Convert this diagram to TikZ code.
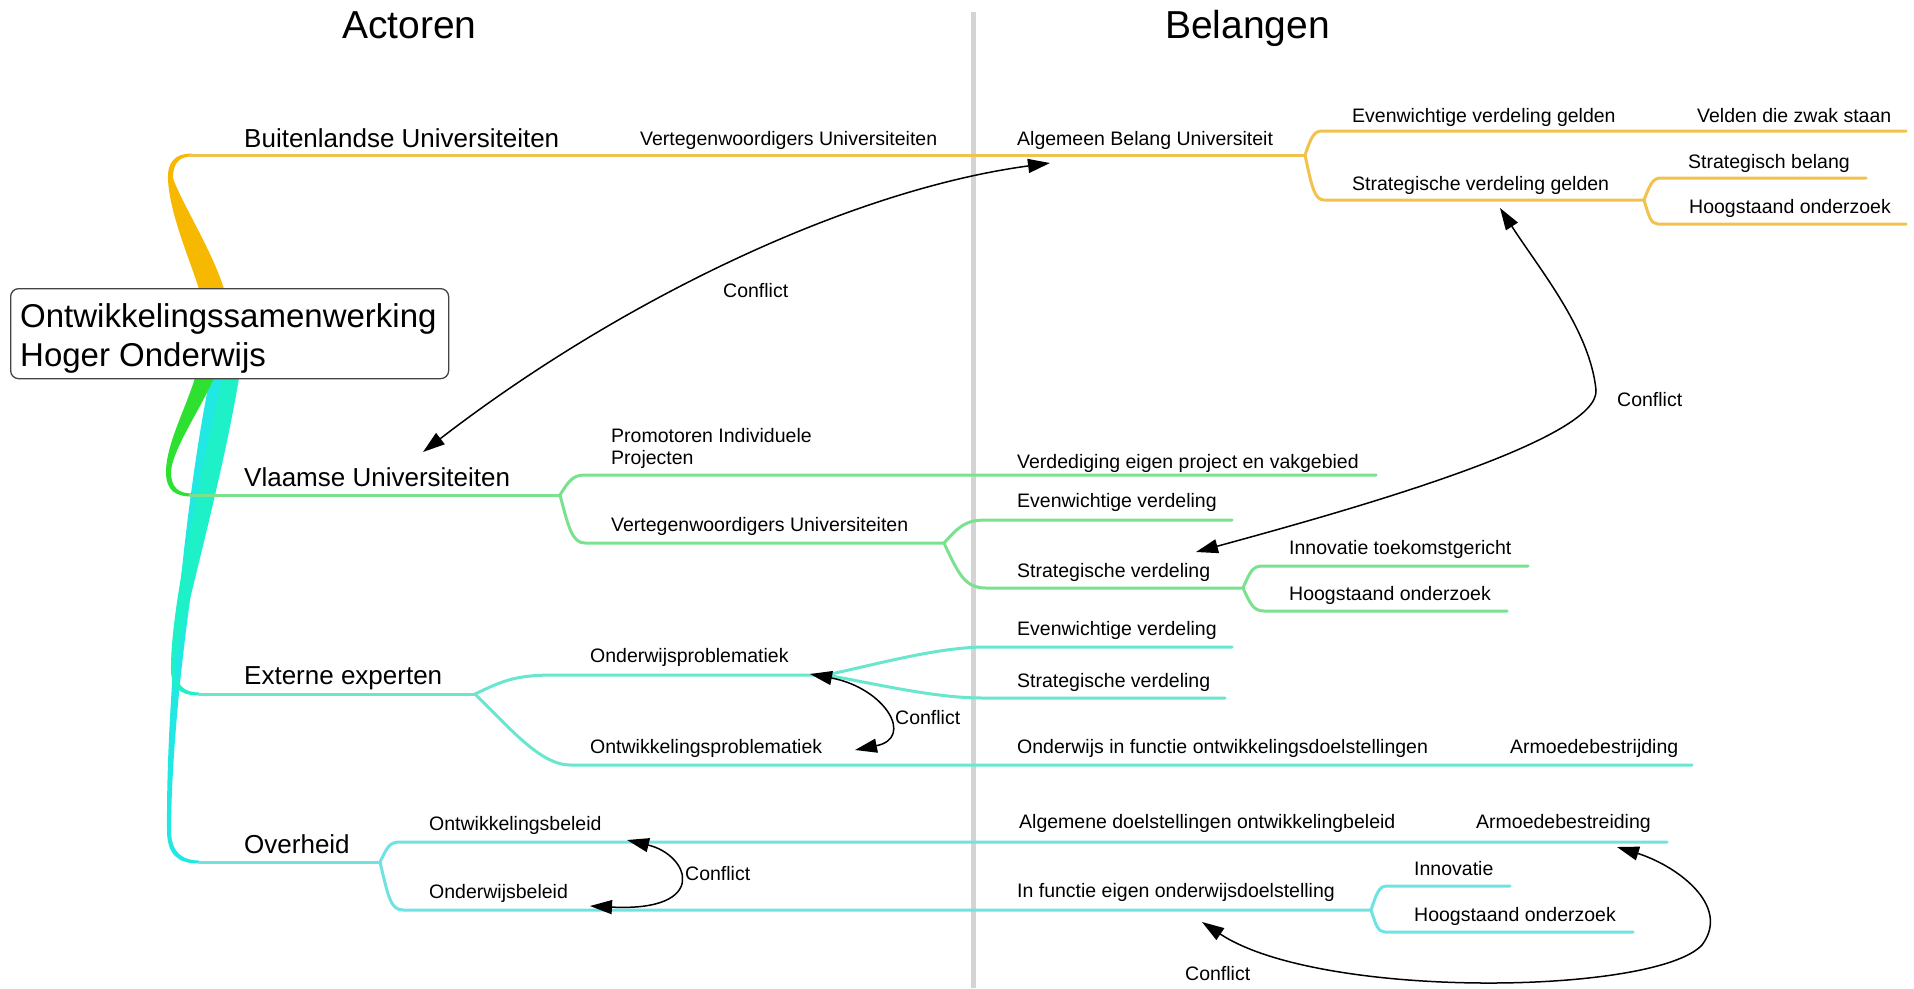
\documentclass[tikz,border=0pt]{standalone}
\usepackage{fontspec}
\setmainfont{Liberation Sans}
\usetikzlibrary{arrows.meta}
\definecolor{yel}{HTML}{F2C24E}
\definecolor{yelstem}{HTML}{F6B800}
\definecolor{grn}{HTML}{7AE28E}
\definecolor{grnstem}{HTML}{2EE030}
\definecolor{tur}{HTML}{68E6CE}
\definecolor{turstem}{HTML}{1EF0C8}
\definecolor{cya}{HTML}{70E2E2}
\definecolor{cyastem}{HTML}{22E8E4}
\definecolor{divg}{HTML}{D4D4D4}
\definecolor{boxline}{HTML}{444444}
\begin{document}
\begin{tikzpicture}[x=1pt,y=-1pt,
  lbl/.style={anchor=base west,inner sep=0pt,font=\fontsize{19.5}{22}\selectfont},
  lvl/.style={anchor=base west,inner sep=0pt,font=\fontsize{26}{30}\selectfont},
  ttl/.style={anchor=base west,inner sep=0pt,font=\fontsize{39}{44}\selectfont},
  roottxt/.style={anchor=base west,inner sep=0pt,font=\fontsize{33}{39}\selectfont},
  rootbox/.style={draw=boxline,line width=1.3pt,rounded corners=8pt,fill=white,inner sep=0pt,anchor=north west},
  br/.style={line width=3pt,line cap=round},
  cf/.style={line width=1.5pt,{Triangle[length=22pt,width=14pt]}-{Triangle[length=22pt,width=14pt]}},
]
\useasboundingbox (0,0) rectangle (1914,988);

% divider
\draw[divg,line width=5pt] (973,12) -- (973,988);

% stems
\fill[yelstem] (199,289) .. controls (190,260) and (170,215) .. (168,180) .. controls (167,162) and (175,153.5) .. (192,153.5) -- (192,156.5) .. controls (180,156.5) and (173,162) .. (173,178) .. controls (180,200) and (212,250) .. (224,289) -- cycle;
\fill[cyastem] (210,378) .. controls (185,500) and (166,700) .. (167,830) .. controls (167,855) and (178,863.5) .. (199,863.5) -- (199,860.5) .. controls (183,860.5) and (171,853) .. (171,830) .. controls (172,700) and (200,500) .. (232,378) -- cycle;
\fill[turstem] (222,378) .. controls (200,480) and (172,600) .. (171,665) .. controls (170,688) and (180,695.5) .. (199,695.5) -- (199,692.5) .. controls (185,692.5) and (175,686) .. (175,665) .. controls (188,600) and (222,480) .. (239,378) -- cycle;
\fill[grnstem] (195,378) .. controls (185,410) and (166,445) .. (166,472) .. controls (166,490) and (175,496.5) .. (192,496.5) -- (192,493.5) .. controls (178,493.5) and (171,487) .. (171,472) .. controls (172,450) and (200,410) .. (214,378) -- cycle;

% yellow branch lines
\draw[br,yel] (190,155) -- (1305,155);
\draw[br,yel] (1305,155) .. controls (1311,138) and (1313.5,131) .. (1322,131) -- (1906,131);
\draw[br,yel] (1305,155) .. controls (1311.7,186.5) and (1314.5,200) .. (1324,200) -- (1644,200);
\draw[br,yel] (1644,200) .. controls (1650,184.6) and (1652.5,178) .. (1661,178) -- (1866,178);
\draw[br,yel] (1644,200) .. controls (1649,216.8) and (1651,224) .. (1658,224) -- (1906,224);

% green branch lines
\draw[br,grn] (190,495) -- (560,495);
\draw[br,grn] (560,495) .. controls (568.75,481) and (572.5,475) .. (585,475) -- (1376,475);
\draw[br,grn] (560,495) .. controls (568.75,528.6) and (572.5,543) .. (585,543) -- (944,543);
\draw[br,grn] (944,543) .. controls (958.7,526.9) and (965,520) .. (986,520) -- (1232,520);
\draw[br,grn] (944,543) .. controls (958.7,574.5) and (965,588) .. (986,588) -- (1243,588);
\draw[br,grn] (1243,588) .. controls (1249.65,572.6) and (1252.5,566) .. (1262,566) -- (1528,566);
\draw[br,grn] (1243,588) .. controls (1250.35,604.1) and (1253.5,611) .. (1264,611) -- (1507,611);

% externe branch lines
\draw[br,tur] (199,694) -- (475,694);
\draw[br,tur] (475,694) .. controls (503,680.7) and (515,675) .. (555,675) -- (826,675);
\draw[br,tur] (826,675) .. controls (879,663.8) and (938,647) .. (986,647) -- (1232,647);
\draw[br,tur] (826,675) .. controls (877.5,684.2) and (935,698) .. (982,698) -- (1225,698);
\draw[br,tur] (475,694) .. controls (508,726) and (540,765) .. (570,765) -- (1692,765);

% overheid branch lines
\draw[br,cya] (199,862) -- (380,862);
\draw[br,cya] (380,862) .. controls (387,848) and (389,842) .. (400,842) -- (1667,842);
\draw[br,cya] (380,862) .. controls (388,895.6) and (390.4,910) .. (403,910) -- (1371,910);
\draw[br,cya] (1371,910) .. controls (1376.6,893.2) and (1379,886) .. (1387,886) -- (1510,886);
\draw[br,cya] (1371,910) .. controls (1376,925.4) and (1378,932) .. (1385,932) -- (1633,932);

% root
\node (root) [rootbox,minimum width=438pt,minimum height=90pt] at (10,288) {};
\node (rootA) [roottxt] at (20,327) {Ontwikkelingssamenwerking};
\node (rootB) [roottxt] at (20,366) {Hoger Onderwijs};

% titles
\node (actoren) [ttl] at (342,38) {Actoren};
\node (belangen) [ttl] at (1165,38) {Belangen};

% level 1
\node (buit) [lvl] at (244,147) {Buitenlandse Universiteiten};
\node (vlaam) [lvl] at (244,486) {Vlaamse Universiteiten};
\node (extern) [lvl] at (244,684) {Externe experten};
\node (over) [lvl] at (244,853) {Overheid};

% yellow labels
\node (y1) [lbl] at (640,145) {Vertegenwoordigers Universiteiten};
\node (y2) [lbl] at (1017,145) {Algemeen Belang Universiteit};
\node (y3) [lbl] at (1352,122) {Evenwichtige verdeling gelden};
\node (y4) [lbl] at (1697,122) {Velden die zwak staan};
\node (y5) [lbl] at (1352,190) {Strategische verdeling gelden};
\node (y6) [lbl] at (1688,168) {Strategisch belang};
\node (y7) [lbl] at (1689,213) {Hoogstaand onderzoek};

% green labels
\node (g1a) [lbl] at (611,442) {Promotoren Individuele};
\node (g1b) [lbl] at (611,464) {Projecten};
\node (g2) [lbl] at (1017,468) {Verdediging eigen project en vakgebied};
\node (g3) [lbl] at (611,531) {Vertegenwoordigers Universiteiten};
\node (g4) [lbl] at (1017,507) {Evenwichtige verdeling};
\node (g5) [lbl] at (1017,577) {Strategische verdeling};
\node (g6) [lbl] at (1289,554) {Innovatie toekomstgericht};
\node (g7) [lbl] at (1289,600) {Hoogstaand onderzoek};

% externe labels
\node (e1) [lbl] at (590,662) {Onderwijsproblematiek};
\node (e2) [lbl] at (1017,635) {Evenwichtige verdeling};
\node (e3) [lbl] at (1017,687) {Strategische verdeling};
\node (e4) [lbl] at (590,753) {Ontwikkelingsproblematiek};
\node (e5) [lbl] at (1017,753) {Onderwijs in functie ontwikkelingsdoelstellingen};
\node (e6) [lbl] at (1510,753) {Armoedebestrijding};

% overheid labels
\node (o1) [lbl] at (429,830) {Ontwikkelingsbeleid};
\node (o2) [lbl] at (429,898) {Onderwijsbeleid};
\node (o3) [lbl] at (1019,828) {Algemene doelstellingen ontwikkelingbeleid};
\node (o4) [lbl] at (1476,828) {Armoedebestreiding};
\node (o5) [lbl] at (1017,897) {In functie eigen onderwijsdoelstelling};
\node (o6) [lbl] at (1414,875) {Innovatie};
\node (o7) [lbl] at (1414,921) {Hoogstaand onderzoek};

% conflict arrows
\coordinate (c1a) at (423,452);
\coordinate (c1b) at (1050,163);
\coordinate (c2a) at (1500,208);
\coordinate (c2b) at (1196,552);
\coordinate (c3a) at (810,674);
\coordinate (c3b) at (855,750);
\coordinate (c4a) at (627,840);
\coordinate (c4b) at (590,906);
\coordinate (c5a) at (1617,847);
\coordinate (c5b) at (1202,922);

\draw[cf] (c1a) .. controls (620,300) and (850,190) .. (c1b);
\draw[cf] (c2a) .. controls (1540,270) and (1590,330) .. (1596,390) .. controls (1600,440) and (1350,510) .. (c2b);
\draw[cf] (c3a) .. controls (885,688) and (915,738) .. (c3b);
\draw[cf] (c4a) .. controls (690,855) and (710,912) .. (c4b);
\draw[cf] (c5a) .. controls (1675,865) and (1732,905) .. (1702,945) .. controls (1655,995) and (1320,1000) .. (c5b);

\node (k1) [lbl] at (723,297) {Conflict};
\node (k2) [lbl] at (1617,406) {Conflict};
\node (k3) [lbl] at (895,724) {Conflict};
\node (k4) [lbl] at (685,880) {Conflict};
\node (k5) [lbl] at (1185,980) {Conflict};
\end{tikzpicture}
\end{document}
